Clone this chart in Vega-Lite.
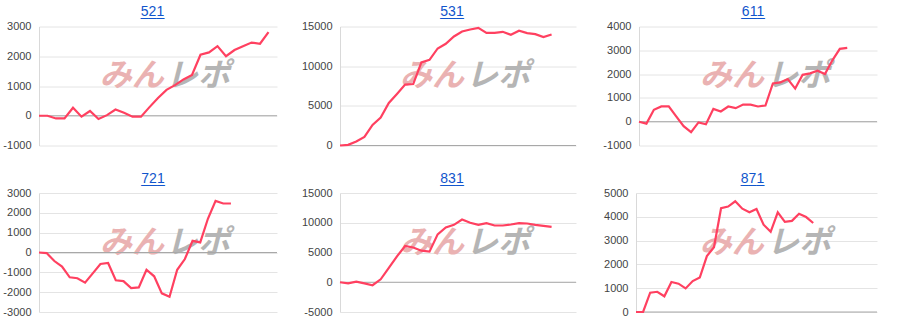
{
  "$schema": "https://vega.github.io/schema/vega-lite/v6.json",
  "padding": {"top": 4.5, "left": 0, "right": 0, "bottom": 0},
  "background": "white",
  "config": {
    "view": {"stroke": null},
    "font": "Liberation Sans",
    "title": {"font": "Liberation Sans", "fontSize": 14, "fontWeight": "normal", "color": "#1155cc", "anchor": "middle", "offset": 1.5, "subtitleFont": "Liberation Sans", "subtitleFontSize": 14, "subtitleColor": "#1155cc", "subtitlePadding": -14},
    "axis": {"labelOverlap": false, "labelBound": false, "labelFlush": false},
    "axisY": {"grid": true, "gridColor": "#e4e4e4", "ticks": false, "labelPadding": 8, "labelOverlap": false, "labelFont": "Liberation Sans", "labelFontSize": 11, "labelColor": "#444444", "domainColor": "#d9d9d9", "title": null, "minExtent": 39, "maxExtent": 39, "labelExpr": "datum.value < 0 ? '-' + abs(datum.value) : '' + datum.value"}
  },
  "datasets": {
    "m521": [{"i":0,"v":0},{"i":1,"v":0},{"i":2,"v":-90},{"i":3,"v":-90},{"i":4,"v":270},{"i":5,"v":-30},{"i":6,"v":160},{"i":7,"v":-110},{"i":8,"v":20},{"i":9,"v":210},{"i":10,"v":100},{"i":11,"v":-30},{"i":12,"v":-30},{"i":13,"v":290},{"i":14,"v":600},{"i":15,"v":870},{"i":16,"v":1030},{"i":17,"v":1220},{"i":18,"v":1370},{"i":19,"v":2050},{"i":20,"v":2130},{"i":21,"v":2340},{"i":22,"v":2000},{"i":23,"v":2210},{"i":24,"v":2340},{"i":25,"v":2460},{"i":26,"v":2420},{"i":27,"v":2810}],
    "m531": [{"i":0,"v":0},{"i":1,"v":80},{"i":2,"v":500},{"i":3,"v":1090},{"i":4,"v":2600},{"i":5,"v":3520},{"i":6,"v":5360},{"i":7,"v":6490},{"i":8,"v":7670},{"i":9,"v":7750},{"i":10,"v":10470},{"i":11,"v":10800},{"i":12,"v":12230},{"i":13,"v":12820},{"i":14,"v":13740},{"i":15,"v":14370},{"i":16,"v":14620},{"i":17,"v":14830},{"i":18,"v":14200},{"i":19,"v":14200},{"i":20,"v":14330},{"i":21,"v":13950},{"i":22,"v":14460},{"i":23,"v":14160},{"i":24,"v":14040},{"i":25,"v":13660},{"i":26,"v":14000}],
    "m611": [{"i":0,"v":0},{"i":1,"v":-80},{"i":2,"v":500},{"i":3,"v":640},{"i":4,"v":640},{"i":5,"v":220},{"i":6,"v":-190},{"i":7,"v":-440},{"i":8,"v":-30},{"i":9,"v":-110},{"i":10,"v":540},{"i":11,"v":430},{"i":12,"v":640},{"i":13,"v":570},{"i":14,"v":720},{"i":15,"v":720},{"i":16,"v":640},{"i":17,"v":680},{"i":18,"v":1610},{"i":19,"v":1650},{"i":20,"v":1790},{"i":21,"v":1390},{"i":22,"v":1970},{"i":23,"v":2030},{"i":24,"v":2140},{"i":25,"v":2000},{"i":26,"v":2580},{"i":27,"v":3060},{"i":28,"v":3100}],
    "m721": [{"i":0,"v":0},{"i":1,"v":-30},{"i":2,"v":-430},{"i":3,"v":-710},{"i":4,"v":-1250},{"i":5,"v":-1300},{"i":6,"v":-1520},{"i":7,"v":-1050},{"i":8,"v":-580},{"i":9,"v":-530},{"i":10,"v":-1400},{"i":11,"v":-1440},{"i":12,"v":-1790},{"i":13,"v":-1760},{"i":14,"v":-870},{"i":15,"v":-1200},{"i":16,"v":-2060},{"i":17,"v":-2230},{"i":18,"v":-870},{"i":19,"v":-330},{"i":20,"v":590},{"i":21,"v":510},{"i":22,"v":1700},{"i":23,"v":2600},{"i":24,"v":2470},{"i":25,"v":2470}],
    "m831": [{"i":0,"v":0},{"i":1,"v":-200},{"i":2,"v":100},{"i":3,"v":-200},{"i":4,"v":-500},{"i":5,"v":500},{"i":6,"v":2400},{"i":7,"v":4350},{"i":8,"v":6100},{"i":9,"v":5850},{"i":10,"v":5300},{"i":11,"v":5150},{"i":12,"v":8050},{"i":13,"v":9200},{"i":14,"v":9650},{"i":15,"v":10550},{"i":16,"v":10000},{"i":17,"v":9650},{"i":18,"v":9930},{"i":19,"v":9540},{"i":20,"v":9540},{"i":21,"v":9700},{"i":22,"v":9930},{"i":23,"v":9870},{"i":24,"v":9650},{"i":25,"v":9480},{"i":26,"v":9310}],
    "m871": [{"i":0,"v":0},{"i":1,"v":0},{"i":2,"v":810},{"i":3,"v":850},{"i":4,"v":660},{"i":5,"v":1260},{"i":6,"v":1190},{"i":7,"v":990},{"i":8,"v":1300},{"i":9,"v":1450},{"i":10,"v":2350},{"i":11,"v":2720},{"i":12,"v":4360},{"i":13,"v":4430},{"i":14,"v":4650},{"i":15,"v":4340},{"i":16,"v":4190},{"i":17,"v":4330},{"i":18,"v":3670},{"i":19,"v":3370},{"i":20,"v":4190},{"i":21,"v":3790},{"i":22,"v":3830},{"i":23,"v":4130},{"i":24,"v":3990},{"i":25,"v":3740}]
  },
  "vconcat": [
    {
      "spacing": 23,
      "hconcat": [
        {
          "width": 238, "height": 119,
          "title": {"text": "521", "subtitle": "___", "dx": -5.5},
          "layer": [
            {"data": {"name": "m521"}, "mark": {"type": "line", "color": "#ff4060", "strokeWidth": 2.2, "opacity": 0},
             "encoding": {"x": {"field": "i", "type": "quantitative", "scale": {"domain": [0, 28], "nice": false, "zero": false}, "axis": null}, "y": {"field": "v", "type": "quantitative", "scale": {"domain": [-1000, 3000], "nice": false, "zero": false}, "axis": {"values": [-1000, 0, 1000, 2000, 3000], "tickCount": 5, "labelOverlap": false}}}},
            {"data": {"values": [{}]}, "mark": {"type": "text", "text": "みん", "font": "Noto Sans CJK JP", "fontSize": 32, "fontWeight": "bold", "fontStyle": "italic", "color": "#eab2b2", "baseline": "middle", "align": "center"},
             "encoding": {"x": {"datum": 10.9, "type": "quantitative"}, "y": {"datum": 1320, "type": "quantitative"}}},
            {"data": {"values": [{}]}, "mark": {"type": "text", "text": "レポ", "font": "Noto Sans CJK JP", "fontSize": 32, "fontWeight": "bold", "fontStyle": "italic", "color": "#b5b5b5", "baseline": "middle", "align": "center"},
             "encoding": {"x": {"datum": 18.7, "type": "quantitative"}, "y": {"datum": 1320, "type": "quantitative"}}},
            {"data": {"values": [{}]}, "mark": {"type": "rule", "color": "#a8a8a8", "strokeWidth": 1}, "encoding": {"y": {"datum": 0, "type": "quantitative"}}},
            {"data": {"name": "m521"}, "mark": {"type": "line", "color": "#ff4060", "strokeWidth": 2.2},
             "encoding": {"x": {"field": "i", "type": "quantitative"}, "y": {"field": "v", "type": "quantitative"}}}
          ]
        },
        {
          "width": 236, "height": 119,
          "title": {"text": "531", "subtitle": "___", "dx": -6},
          "layer": [
            {"data": {"name": "m531"}, "mark": {"type": "line", "color": "#ff4060", "strokeWidth": 2.2, "opacity": 0},
             "encoding": {"x": {"field": "i", "type": "quantitative", "scale": {"domain": [0, 29], "nice": false, "zero": false}, "axis": null}, "y": {"field": "v", "type": "quantitative", "scale": {"domain": [0, 15000], "nice": false, "zero": false}, "axis": {"values": [0, 5000, 10000, 15000], "tickCount": 4, "labelOverlap": false}}}},
            {"data": {"values": [{}]}, "mark": {"type": "text", "text": "みん", "font": "Noto Sans CJK JP", "fontSize": 32, "fontWeight": "bold", "fontStyle": "italic", "color": "#eab2b2", "baseline": "middle", "align": "center"},
             "encoding": {"x": {"datum": 11.3, "type": "quantitative"}, "y": {"datum": 8700, "type": "quantitative"}}},
            {"data": {"values": [{}]}, "mark": {"type": "text", "text": "レポ", "font": "Noto Sans CJK JP", "fontSize": 32, "fontWeight": "bold", "fontStyle": "italic", "color": "#b5b5b5", "baseline": "middle", "align": "center"},
             "encoding": {"x": {"datum": 19.4, "type": "quantitative"}, "y": {"datum": 8700, "type": "quantitative"}}},
            {"data": {"values": [{}]}, "mark": {"type": "rule", "color": "#a8a8a8", "strokeWidth": 1}, "encoding": {"y": {"datum": 0, "type": "quantitative"}}},
            {"data": {"name": "m531"}, "mark": {"type": "line", "color": "#ff4060", "strokeWidth": 2.2},
             "encoding": {"x": {"field": "i", "type": "quantitative"}, "y": {"field": "v", "type": "quantitative"}}}
          ]
        },
        {
          "width": 238, "height": 119,
          "title": {"text": "611", "subtitle": "___", "dx": -5},
          "layer": [
            {"data": {"name": "m611"}, "mark": {"type": "line", "color": "#ff4060", "strokeWidth": 2.2, "opacity": 0},
             "encoding": {"x": {"field": "i", "type": "quantitative", "scale": {"domain": [0, 32], "nice": false, "zero": false}, "axis": null}, "y": {"field": "v", "type": "quantitative", "scale": {"domain": [-1000, 4000], "nice": false, "zero": false}, "axis": {"values": [-1000, 0, 1000, 2000, 3000, 4000], "tickCount": 6, "labelOverlap": false}}}},
            {"data": {"values": [{}]}, "mark": {"type": "text", "text": "みん", "font": "Noto Sans CJK JP", "fontSize": 32, "fontWeight": "bold", "fontStyle": "italic", "color": "#eab2b2", "baseline": "middle", "align": "center"},
             "encoding": {"x": {"datum": 12.5, "type": "quantitative"}, "y": {"datum": 1900, "type": "quantitative"}}},
            {"data": {"values": [{}]}, "mark": {"type": "text", "text": "レポ", "font": "Noto Sans CJK JP", "fontSize": 32, "fontWeight": "bold", "fontStyle": "italic", "color": "#b5b5b5", "baseline": "middle", "align": "center"},
             "encoding": {"x": {"datum": 21.4, "type": "quantitative"}, "y": {"datum": 1900, "type": "quantitative"}}},
            {"data": {"values": [{}]}, "mark": {"type": "rule", "color": "#a8a8a8", "strokeWidth": 1}, "encoding": {"y": {"datum": 0, "type": "quantitative"}}},
            {"data": {"name": "m611"}, "mark": {"type": "line", "color": "#ff4060", "strokeWidth": 2.2},
             "encoding": {"x": {"field": "i", "type": "quantitative"}, "y": {"field": "v", "type": "quantitative"}}}
          ]
        }
      ]
    },
    {
      "spacing": 23,
      "hconcat": [
        {
          "width": 238, "height": 119,
          "title": {"text": "721", "subtitle": "___", "dx": -5},
          "layer": [
            {"data": {"name": "m721"}, "mark": {"type": "line", "color": "#ff4060", "strokeWidth": 2.2, "opacity": 0},
             "encoding": {"x": {"field": "i", "type": "quantitative", "scale": {"domain": [0, 31], "nice": false, "zero": false}, "axis": null}, "y": {"field": "v", "type": "quantitative", "scale": {"domain": [-3000, 3000], "nice": false, "zero": false}, "axis": {"values": [-3000, -2000, -1000, 0, 1000, 2000, 3000], "tickCount": 7, "labelOverlap": false}}}},
            {"data": {"values": [{}]}, "mark": {"type": "text", "text": "みん", "font": "Noto Sans CJK JP", "fontSize": 32, "fontWeight": "bold", "fontStyle": "italic", "color": "#eab2b2", "baseline": "middle", "align": "center"},
             "encoding": {"x": {"datum": 12.1, "type": "quantitative"}, "y": {"datum": 480, "type": "quantitative"}}},
            {"data": {"values": [{}]}, "mark": {"type": "text", "text": "レポ", "font": "Noto Sans CJK JP", "fontSize": 32, "fontWeight": "bold", "fontStyle": "italic", "color": "#b5b5b5", "baseline": "middle", "align": "center"},
             "encoding": {"x": {"datum": 20.7, "type": "quantitative"}, "y": {"datum": 480, "type": "quantitative"}}},
            {"data": {"values": [{}]}, "mark": {"type": "rule", "color": "#a8a8a8", "strokeWidth": 1}, "encoding": {"y": {"datum": 0, "type": "quantitative"}}},
            {"data": {"name": "m721"}, "mark": {"type": "line", "color": "#ff4060", "strokeWidth": 2.2},
             "encoding": {"x": {"field": "i", "type": "quantitative"}, "y": {"field": "v", "type": "quantitative"}}}
          ]
        },
        {
          "width": 236, "height": 119,
          "title": {"text": "831", "subtitle": "___", "dx": -6},
          "layer": [
            {"data": {"name": "m831"}, "mark": {"type": "line", "color": "#ff4060", "strokeWidth": 2.2, "opacity": 0},
             "encoding": {"x": {"field": "i", "type": "quantitative", "scale": {"domain": [0, 29], "nice": false, "zero": false}, "axis": null}, "y": {"field": "v", "type": "quantitative", "scale": {"domain": [-5000, 15000], "nice": false, "zero": false}, "axis": {"values": [-5000, 0, 5000, 10000, 15000], "tickCount": 5, "labelOverlap": false}}}},
            {"data": {"values": [{}]}, "mark": {"type": "text", "text": "みん", "font": "Noto Sans CJK JP", "fontSize": 32, "fontWeight": "bold", "fontStyle": "italic", "color": "#eab2b2", "baseline": "middle", "align": "center"},
             "encoding": {"x": {"datum": 11.3, "type": "quantitative"}, "y": {"datum": 6600, "type": "quantitative"}}},
            {"data": {"values": [{}]}, "mark": {"type": "text", "text": "レポ", "font": "Noto Sans CJK JP", "fontSize": 32, "fontWeight": "bold", "fontStyle": "italic", "color": "#b5b5b5", "baseline": "middle", "align": "center"},
             "encoding": {"x": {"datum": 19.4, "type": "quantitative"}, "y": {"datum": 6600, "type": "quantitative"}}},
            {"data": {"values": [{}]}, "mark": {"type": "rule", "color": "#a8a8a8", "strokeWidth": 1}, "encoding": {"y": {"datum": 0, "type": "quantitative"}}},
            {"data": {"name": "m831"}, "mark": {"type": "line", "color": "#ff4060", "strokeWidth": 2.2},
             "encoding": {"x": {"field": "i", "type": "quantitative"}, "y": {"field": "v", "type": "quantitative"}}}
          ]
        },
        {
          "width": 241, "height": 119,
          "title": {"text": "871", "subtitle": "___", "dx": -4},
          "layer": [
            {"data": {"name": "m871"}, "mark": {"type": "line", "color": "#ff4060", "strokeWidth": 2.2, "opacity": 0},
             "encoding": {"x": {"field": "i", "type": "quantitative", "scale": {"domain": [0, 34], "nice": false, "zero": false}, "axis": null}, "y": {"field": "v", "type": "quantitative", "scale": {"domain": [0, 5000], "nice": false, "zero": false}, "axis": {"values": [0, 1000, 2000, 3000, 4000, 5000], "tickCount": 6, "labelOverlap": false, "minExtent": 36, "maxExtent": 36}}}},
            {"data": {"values": [{}]}, "mark": {"type": "text", "text": "みん", "font": "Noto Sans CJK JP", "fontSize": 32, "fontWeight": "bold", "fontStyle": "italic", "color": "#eab2b2", "baseline": "middle", "align": "center"},
             "encoding": {"x": {"datum": 13.5, "type": "quantitative"}, "y": {"datum": 2900, "type": "quantitative"}}},
            {"data": {"values": [{}]}, "mark": {"type": "text", "text": "レポ", "font": "Noto Sans CJK JP", "fontSize": 32, "fontWeight": "bold", "fontStyle": "italic", "color": "#b5b5b5", "baseline": "middle", "align": "center"},
             "encoding": {"x": {"datum": 23.0, "type": "quantitative"}, "y": {"datum": 2900, "type": "quantitative"}}},
            {"data": {"values": [{}]}, "mark": {"type": "rule", "color": "#a8a8a8", "strokeWidth": 1}, "encoding": {"y": {"datum": 0, "type": "quantitative"}}},
            {"data": {"name": "m871"}, "mark": {"type": "line", "color": "#ff4060", "strokeWidth": 2.2},
             "encoding": {"x": {"field": "i", "type": "quantitative"}, "y": {"field": "v", "type": "quantitative"}}}
          ]
        }
      ]
    }
  ],
  "spacing": 20.5
}
